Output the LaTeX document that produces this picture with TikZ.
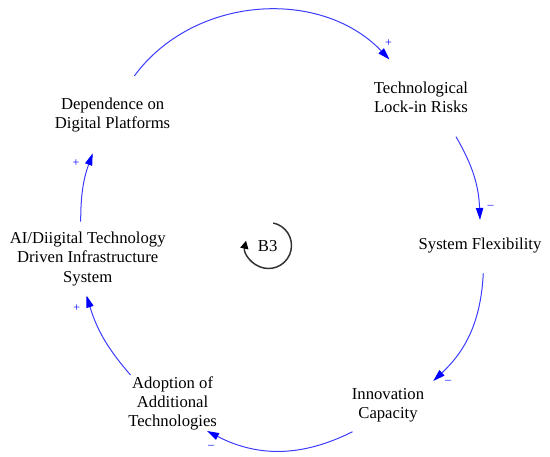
\documentclass[tikz,border=0pt]{standalone}
\usepackage{fontspec}
\setmainfont{Liberation Serif}
\usetikzlibrary{arrows.meta}
\definecolor{linkblue}{RGB}{60,60,255}
\definecolor{loopgray}{RGB}{50,50,50}
\begin{document}
\begin{tikzpicture}[x=0.75pt,y=-0.75pt,
  var/.style={align=center, font=\fontsize{12.5}{14.3}\selectfont, inner sep=1pt},
  link/.style={draw=linkblue, line width=0.75pt, -{Triangle[length=9pt,width=5.5pt,color=blue]}},
  pol/.style={text=blue, font=\fontsize{9}{10}\selectfont, inner sep=0pt}]
\useasboundingbox (0,0) rectangle (550,457);

% variables
\node[var] (dep)   at (112.6,115)  {Dependence on\\Digital Platforms};
\node[var] (tech)  at (421,97.7)   {Technological\\Lock-in Risks};
\node[var] (sys)   at (480,246)    {System Flexibility};
\node[var] (innov) at (388,405.7)  {Innovation\\Capacity};
\node[var] (adopt) at (172.6,403.7){Adoption of\\Additional\\Technologies};
\node[var] (ai)    at (87.7,259)   {AI/Diigital Technology\\Driven Infrastructure\\System};
\node[var] (b3)    at (267.7,246)  {B3};

% connector end points
\coordinate (depout)   at (134.3,76);
\coordinate (techin)   at (389.5,59.5);
\coordinate (techout)  at (456,136.7);
\coordinate (sysin)    at (480,220);
\coordinate (sysout)   at (483.3,273.3);
\coordinate (innovin)  at (433.2,381);
\coordinate (innovout) at (352.5,431.7);
\coordinate (adoptin)  at (207,431);
\coordinate (adoptout) at (130.5,375);
\coordinate (aiin)     at (86.5,295.5);
\coordinate (aiout)    at (80.7,221.7);
\coordinate (depin)    at (92.7,153.3);

% links
\draw[link] (depout)   to[bend left=50] (techin);
\draw[link] (techout)  to[bend left=14] (sysin);
\draw[link] (sysout)   to[bend left=22] (innovin);
\draw[link] (innovout) to[bend left=27] (adoptin);
\draw[link] (adoptout) to[bend left=12] (aiin);
\draw[link] (aiout)    to[bend left=10] (depin);

% polarities
\node[pol] (p1) at (388.5,43)   {+};
\node[pol] (p2) at (490.5,207)  {–};
\node[pol] (p3) at (448,382)    {–};
\node[pol] (p4) at (211,446.7)  {–};
\node[pol] (p5) at (76.7,308)   {+};
\node[pol] (p6) at (76,162.7)   {+};

% loop symbol
\coordinate (b3c) at (268.5,245.5);
\draw[draw=loopgray, line width=1.1pt, -{Triangle[length=6pt,width=6pt,color=black]}]
  ([shift={(78:17.25pt)}]b3c) arc[start angle=78, end angle=-192, radius=17.25pt];
\end{tikzpicture}
\end{document}
